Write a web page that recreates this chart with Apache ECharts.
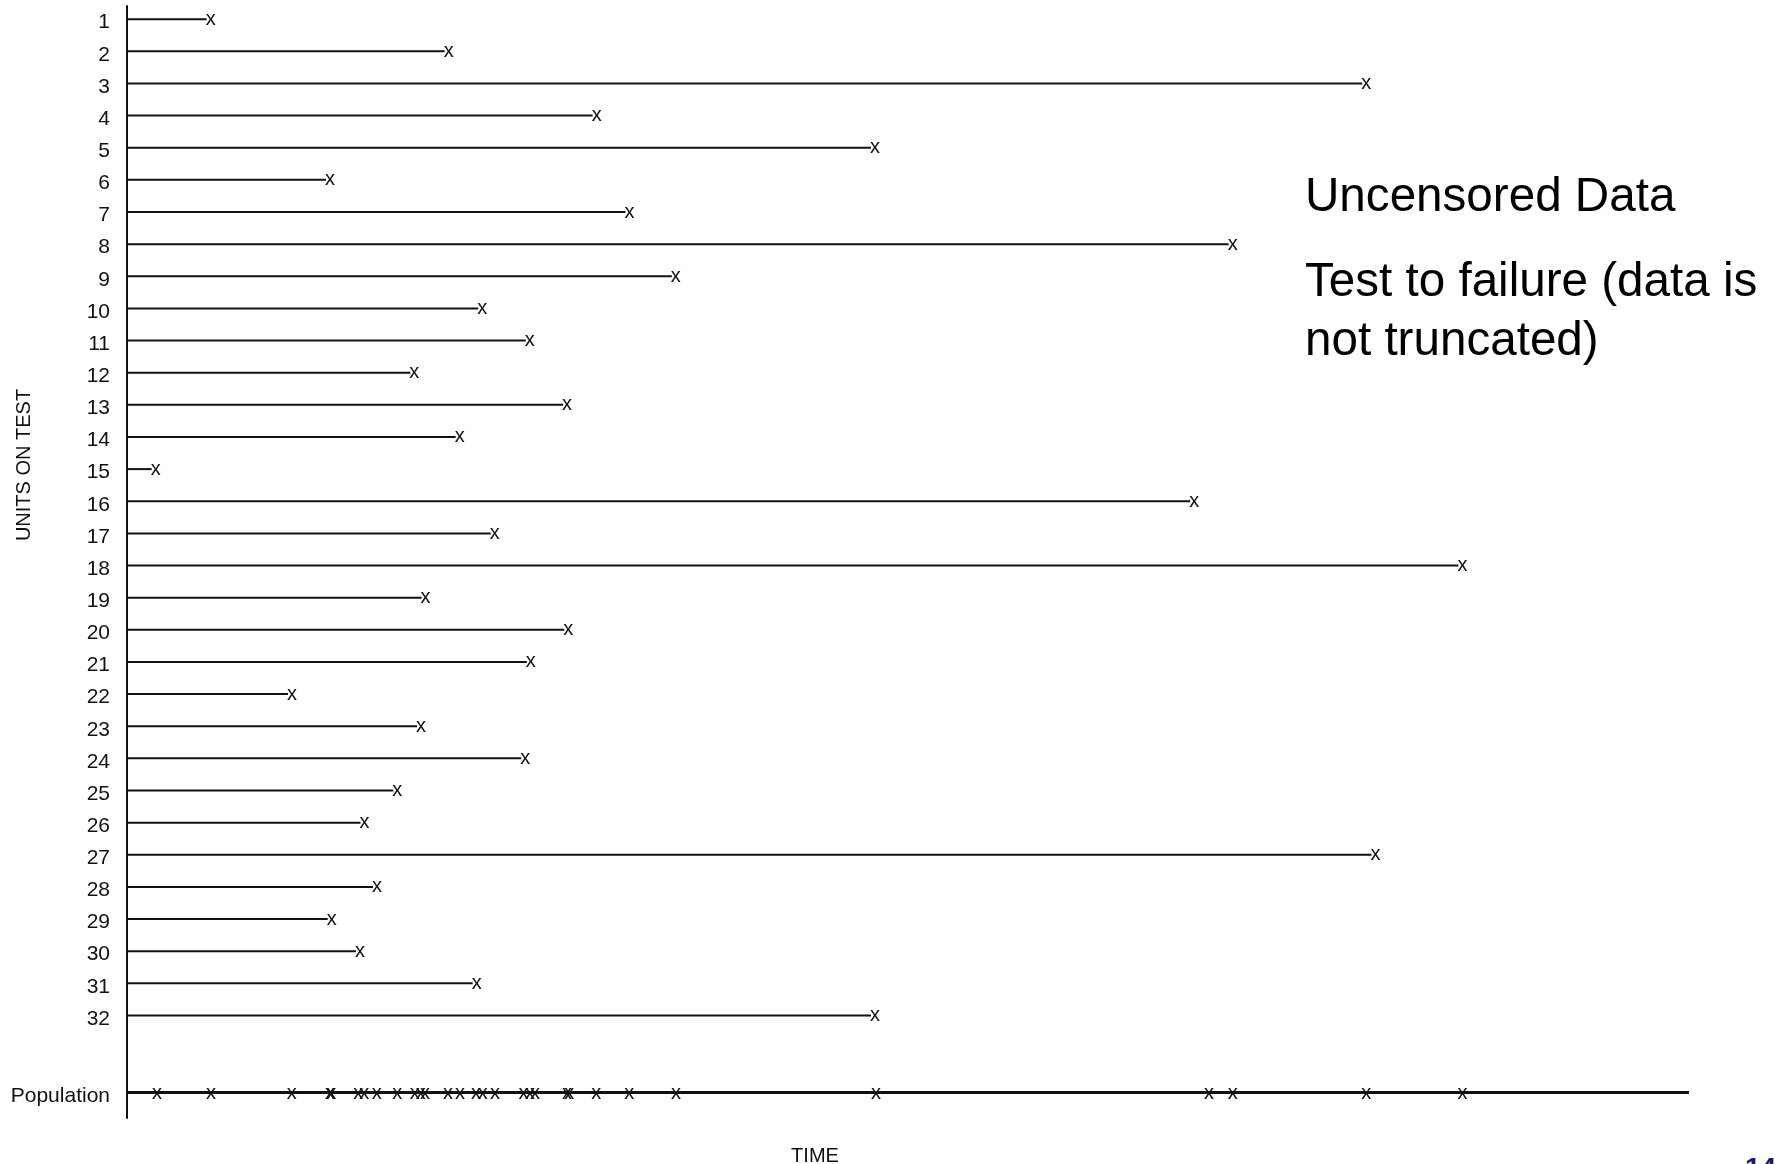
<!DOCTYPE html>
<html>
<head>
<meta charset="utf-8">
<script src="https://cdn.jsdelivr.net/npm/echarts@6/dist/echarts.min.js"></script>
<style>
html,body{margin:0;padding:0;background:#fff;}
#chart{width:1775px;height:1164px;}
</style>
</head>
<body>
<div id="chart"></div>
<script>
// ---- data (time in arbitrary units, 0..100 along the TIME axis) ----
const units = [1,2,3,4,5,6,7,8,9,10,11,12,13,14,15,16,17,18,19,20,21,22,23,24,25,26,27,28,29,30,31,32];
const failureTimes = [5.10, 20.34, 79.08, 29.81, 47.63, 12.74, 31.91, 70.53, 34.88, 22.48,
                      25.53, 18.14, 27.92, 21.04, 1.58, 68.07, 23.28, 85.24, 18.86, 28.00,
                      25.60, 10.31, 18.57, 25.24, 17.05, 14.95, 79.67, 15.75, 12.85, 14.66,
                      22.13, 47.63];
const populationTimes = [1.66, 5.12, 10.29, 12.74, 12.82, 14.55, 14.94, 15.73, 17.05, 18.16,
                         18.55, 18.82, 20.29, 21.06, 22.09, 22.52, 23.30, 25.13, 25.54, 25.86,
                         27.91, 28.06, 29.79, 31.90, 34.89, 47.70, 69.01, 70.53, 79.08, 85.24];
const populationRow = 34.4;
const populationLabel = 'Population';
const timeRange = [0, 100];
const yTickValues = units.concat([populationRow]);
const annotationLines = ['Uncensored Data', 'Test to failure (data is', 'not truncated)'];
const pageNumber = '14';

const FONT = '"Liberation Sans", Arial, Helvetica, sans-serif';
const INK = '#111';

const chart = echarts.init(document.getElementById('chart'), null, {renderer: 'canvas'});

function markText(x, y) {
  return {type: 'text', x: x + 4, y: y,
    style: {text: 'x', fill: INK, font: '20px ' + FONT, align: 'center', verticalAlign: 'middle'}};
}

const option = {
  animation: false,
  backgroundColor: '#ffffff',
  grid: {left: 127, right: 86, top: 6, bottom: 46, containLabel: false, outerBoundsMode: 'none'},
  xAxis: {
    type: 'value', min: timeRange[0], max: timeRange[1],
    axisLine: {show: false}, axisTick: {show: false}, axisLabel: {show: false}, splitLine: {show: false},
    name: 'TIME', nameLocation: 'middle', nameGap: 28, nameMoveOverlap: false,
    nameTextStyle: {fontFamily: FONT, fontSize: 20, color: INK, padding: [0, 186, 0, 0]}
  },
  yAxis: {
    type: 'value', inverse: true, min: 0.59, max: 35.19,
    axisLine: {show: true, onZero: false, lineStyle: {color: INK, width: 2}},
    axisTick: {show: false}, splitLine: {show: false},
    axisLabel: {
      customValues: yTickValues, margin: 17,
      fontFamily: FONT, fontSize: 21, color: INK,
      formatter: function (v) {
        const s = Math.abs(v - populationRow) < 1e-6 ? populationLabel : String(Math.round(v));
        return '{v|' + s + '}';
      },
      rich: {v: {fontFamily: FONT, fontSize: 21, color: INK, padding: [7, 0, 0, 0]}}
    },
    name: 'UNITS ON TEST', nameLocation: 'middle', nameRotate: 90, nameGap: 93, nameMoveOverlap: false,
    nameTextStyle: {fontFamily: FONT, fontSize: 20, color: INK, padding: [0, 0, 0, 194]}
  },
  series: [
    {
      name: 'Units', type: 'custom',
      data: units.map((u, i) => [failureTimes[i], u]),
      renderItem: function (params, api) {
        const t = api.value(0), u = api.value(1);
        const p0 = api.coord([timeRange[0], u]);
        const p1 = api.coord([t, u]);
        return {type: 'group', children: [
          {type: 'line', shape: {x1: p0[0], y1: p0[1], x2: p1[0], y2: p1[1]},
           style: {stroke: INK, lineWidth: 2}},
          markText(p1[0], p1[1])
        ]};
      }
    },
    {
      name: 'Population line', type: 'line', symbol: 'none',
      data: [[timeRange[0], populationRow], [timeRange[1], populationRow]],
      lineStyle: {color: INK, width: 3}
    },
    {
      name: 'Population', type: 'custom',
      data: populationTimes.map(t => [t, populationRow]),
      renderItem: function (params, api) {
        const p = api.coord([api.value(0), api.value(1)]);
        return markText(p[0], p[1] + 1);
      }
    }
  ],
  graphic: [
    {type: 'text', x: 1305, y: 198, silent: true,
     style: {text: annotationLines[0], font: '47.6px ' + FONT, fill: '#000', verticalAlign: 'middle'}},
    {type: 'text', x: 1305, y: 283, silent: true,
     style: {text: annotationLines[1], font: '47.6px ' + FONT, fill: '#000', verticalAlign: 'middle'}},
    {type: 'text', x: 1305, y: 342, silent: true,
     style: {text: annotationLines[2], font: '47.6px ' + FONT, fill: '#000', verticalAlign: 'middle'}},
    {type: 'text', x: 1745, y: 1155, silent: true,
     style: {text: pageNumber, font: 'bold 28px ' + FONT, fill: '#1a1a6e', verticalAlign: 'top'}}
  ]
};
chart.setOption(option);
</script>
</body>
</html>
